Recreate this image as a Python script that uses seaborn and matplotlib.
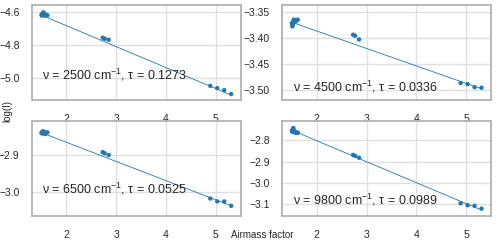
import numpy as np
import pandas as pd
import seaborn as sns
import matplotlib
matplotlib.use('Agg')
import matplotlib.pyplot as plt
from matplotlib.ticker import MultipleLocator

# airmass factor of every measurement (same for all wavenumbers)
airmass = [1.50, 1.51, 1.52, 1.53, 1.54, 1.55, 1.56, 1.58, 1.60, 1.62,
           2.73, 2.77, 2.85, 4.89, 5.03, 5.17, 5.31]

# log(I) per wavenumber
log_i_2500 = [-4.615, -4.620, -4.610, -4.605, -4.600, -4.618, -4.612, -4.620, -4.615, -4.618,
              -4.754, -4.760, -4.766, -5.046, -5.060, -5.072, -5.096]
log_i_4500 = [-3.372, -3.378, -3.375, -3.368, -3.365, -3.370, -3.366, -3.368, -3.366, -3.365,
              -3.394, -3.396, -3.403, -3.487, -3.489, -3.495, -3.496]
log_i_6500 = [-2.838, -2.840, -2.835, -2.836, -2.834, -2.840, -2.838, -2.841, -2.838, -2.837,
              -2.891, -2.894, -2.899, -3.018, -3.026, -3.026, -3.038]
log_i_9800 = [-2.755, -2.760, -2.748, -2.742, -2.752, -2.758, -2.763, -2.762, -2.765, -2.764,
              -2.869, -2.873, -2.882, -3.097, -3.106, -3.109, -3.122]

wavenumbers = [2500, 4500, 6500, 9800]
taus = [0.1273, 0.0336, 0.0525, 0.0989]
intercepts = [-4.426, -3.3196, -2.759, -2.604]   # log(I0) of the fitted line

series = [log_i_2500, log_i_4500, log_i_6500, log_i_9800]

# layout only
ylims = [(-5.13, -4.556), (-3.519, -3.337), (-3.066, -2.807), (-3.157, -2.711)]
ysteps = [0.2, 0.05, 0.1, 0.1]
text_y = [0.26, 0.14, 0.29, 0.17]
blue = "#1f77b4"

sns.set_theme(style="whitegrid")
plt.rcParams['font.family'] = ['Liberation Sans', 'DejaVu Sans']
plt.rcParams['mathtext.fontset'] = 'custom'
plt.rcParams['mathtext.rm'] = 'Liberation Sans'
plt.rcParams['mathtext.it'] = 'Liberation Sans:italic'
plt.rcParams['axes.edgecolor'] = '#b0b0b0'
plt.rcParams['grid.color'] = '#e0e0e0'

fig, axes = plt.subplots(2, 2, figsize=(5, 2.43), dpi=100)
fig.subplots_adjust(left=0.064, right=0.982, top=0.979, bottom=0.111, wspace=0.2, hspace=0.23)

for ax, wn, tau, c, y, yl, st, ty in zip(axes.flat, wavenumbers, taus, intercepts, series,
                                          ylims, ysteps, text_y):
    df = pd.DataFrame({"airmass": airmass, "logI": y})
    xl = np.array([min(airmass), max(airmass)])
    sns.lineplot(x=xl, y=c - tau * xl, ax=ax, color=blue, lw=0.6)
    sns.scatterplot(data=df, x="airmass", y="logI", ax=ax, color=blue, s=10,
                    edgecolor="none")
    ax.set_xlim(1.31, 5.5)
    ax.set_ylim(*yl)
    ax.yaxis.set_major_locator(MultipleLocator(st))
    ax.set_xlabel("")
    ax.set_ylabel("")
    ax.tick_params(axis="x", labelsize=7.5, pad=4)
    ax.tick_params(axis="y", labelsize=7.5, pad=3)
    ax.text(0.05, ty, "ν = %d cm$^{-1}$, τ = %.4f" % (wn, tau),
            transform=ax.transAxes, fontsize=9, va="center")

fig.text(0.014, 0.543, "log(I)", rotation=90, ha="center", va="center", fontsize=7)
fig.text(0.524, 0.033, "Airmass factor", ha="center", va="center", fontsize=7)

plt.savefig("out.png", dpi=100)
